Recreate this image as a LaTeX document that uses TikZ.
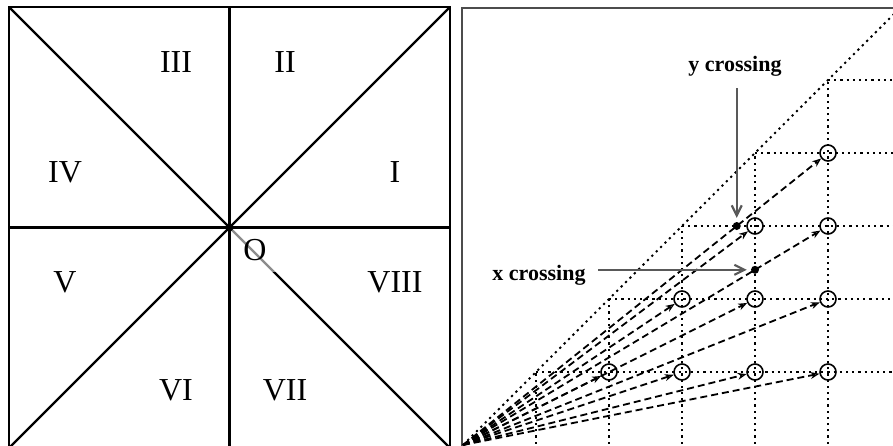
\documentclass[tikz,border=0pt]{standalone}
\usepackage{fontspec}
\setmainfont{Liberation Serif}
\usetikzlibrary{arrows.meta}
\begin{document}
\begin{tikzpicture}[x=1pt,y=-1pt,
  panel/.style={line width=2.2pt,black},
  numeral/.style={font=\fontsize{32}{34}\selectfont, inner sep=0pt},
  griddots/.style={line width=1.8pt, dash pattern=on 2.2pt off 4pt, black},
  ray/.style={line width=1.8pt, dash pattern=on 7pt off 4pt, -{Stealth[length=9pt,width=7pt,open,line width=1.2pt]}},
  ptcircle/.style={circle, draw, line width=1.6pt, minimum size=16pt, inner sep=0pt},
  crossdot/.style={circle, fill=black, minimum size=8pt, inner sep=0pt},
  callout/.style={draw=black!65, line width=2.2pt, -{Straight Barb[length=10pt,width=10pt]}},
  calltext/.style={font=\bfseries\fontsize{22}{24}\selectfont, inner sep=0pt},
]
\useasboundingbox (0,0) rectangle (893,445);

% ---------- left panel ----------
\coordinate (ltl) at (9,7);
\coordinate (ltr) at (450,7);
\coordinate (lbl) at (9,448);
\coordinate (lbr) at (450,448);
\coordinate (ctr) at (229.5,227.5);
\coordinate (ctop) at (229.5,7);
\coordinate (cbot) at (229.5,448);
\coordinate (cleft) at (9,227.5);
\coordinate (cright) at (450,227.5);
\draw[panel] (lbl) -- (ltl) -- (ltr) -- (lbr);
\draw[panel] (ltl) -- (lbr);
\draw[panel] (ltr) -- (lbl);
\draw[panel] (ctop) -- (cbot);
\draw[panel] (cleft) -- (cright);
\fill[white, opacity=0.55] (231,229) rectangle (278,272);
\node[circle, fill=black, minimum size=8pt, inner sep=0pt] (cdot) at (ctr) {};
\node[numeral] (lO) at (255,250) {O};

\node[numeral] (l3) at (176,62) {III};
\node[numeral] (l2) at (285,62) {II};
\node[numeral] (l4) at (65,172) {IV};
\node[numeral] (l1) at (395,172) {I};
\node[numeral] (l5) at (65,282) {V};
\node[numeral] (l8) at (395,282) {VIII};
\node[numeral] (l6) at (176,390) {VI};
\node[numeral] (l7) at (285,390) {VII};

% ---------- right panel ----------
\draw[line width=2.2pt, black!70] (462,452) -- (462,8) -- (900,8);
\coordinate (o) at (463,445);
\begin{scope}
  \clip (463,9) rectangle (893,445);
  \draw[griddots] (o) -- (900,8);
  \foreach \i in {1,...,5} {
    \draw[griddots] ({463+73*\i},450) -- ({463+73*\i},{445-73*\i});
    \draw[griddots] ({463+73*\i},{445-73*\i}) -- (900,{445-73*\i});
  }
\end{scope}

\foreach \i/\j in {2/1,3/1,3/2,4/1,4/2,4/3,5/1,5/2,5/3,5/4} {
  \node[ptcircle] (c\i\j) at ({463+73*\i},{445-73*\j}) {};
}
\foreach \i/\j in {2/1,3/1,3/2,4/1,4/2,4/3,5/1,5/2,5/3,5/4} {
  \draw[ray] (o) -- (c\i\j);
}

\node[crossdot] (ycross) at (736.75,226) {};
\node[crossdot] (xcross) at (755,269.8) {};

\node[calltext, anchor=base] (ylab) at (735,71) {y crossing};
\node[calltext, anchor=base] (xlab) at (539,280) {x crossing};
\coordinate (ystart) at (736.75,88);
\coordinate (xstart) at (598,269.8);
\draw[callout, shorten >=4pt] (ystart) -- (ycross);
\draw[callout, shorten >=4pt] (xstart) -- (xcross);
\end{tikzpicture}
\end{document}
